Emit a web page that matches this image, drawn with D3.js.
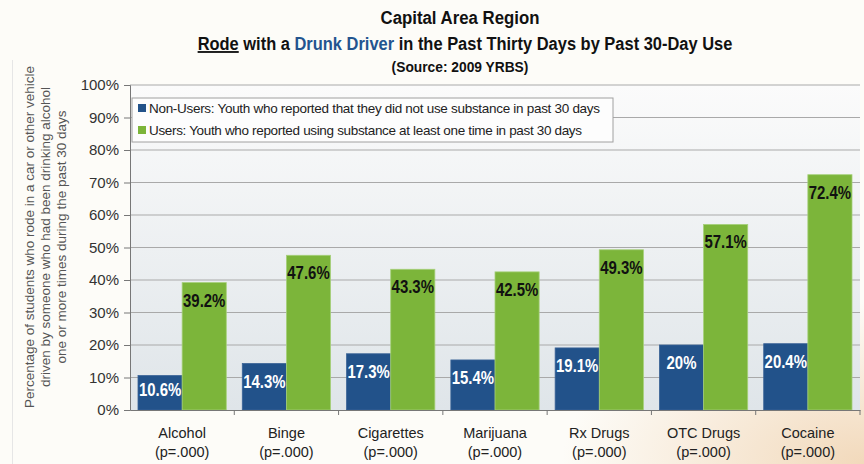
<!DOCTYPE html>
<html>
<head>
<meta charset="utf-8">
<script src="https://cdn.jsdelivr.net/npm/d3@7"></script>
<style>
  body { margin: 0; background: #fff; }
  svg { display: block; }
</style>
</head>
<body>
<svg id="chart"></svg>
<script>
var categories = ['Alcohol', 'Binge', 'Cigarettes', 'Marijuana', 'Rx Drugs', 'OTC Drugs', 'Cocaine'];
var pLabels = ['(p=.000)', '(p=.000)', '(p=.000)', '(p=.000)', '(p=.000)', '(p=.000)', '(p=.000)'];
var nonUsers = [10.6, 14.3, 17.3, 15.4, 19.1, 20, 20.4];
var users = [39.2, 47.6, 43.3, 42.5, 49.3, 57.1, 72.4];
var valueLabels = {
  nonUsers: ['10.6%', '14.3%', '17.3%', '15.4%', '19.1%', '20%', '20.4%'],
  users: ['39.2%', '47.6%', '43.3%', '42.5%', '49.3%', '57.1%', '72.4%']
};
var seriesKeys = ['nonUsers', 'users'];
var seriesNames = [
  'Non-Users: Youth who reported that they did not use substance in past 30 days',
  'Users: Youth who reported using substance at least one time in past 30 days'
];
var yTicks = [0, 10, 20, 30, 40, 50, 60, 70, 80, 90, 100];

var W = 864, H = 464;
var margin = {top: 85, left: 130, right: 4, bottom: 54};
var width = W - margin.left - margin.right;
var height = H - margin.top - margin.bottom;
var sans = '"Liberation Sans", Arial, sans-serif';

var svg = d3.select('#chart').attr('width', W).attr('height', H);

// squeeze text horizontally, like the narrow font of the original
function narrow(sel, k) {
  sel.each(function() {
    var w = this.getComputedTextLength();
    d3.select(this).attr('textLength', w * k).attr('lengthAdjust', 'spacingAndGlyphs');
  });
}

// title line drawn at natural width, then scaled in x to the target width
function titleLine(cx, cy, size, target) {
  var grp = svg.append('g');
  var t = grp.append('text')
    .attr('text-anchor', 'middle')
    .attr('font-family', sans).attr('font-weight', 'bold').attr('font-size', size)
    .attr('fill', '#111');
  return {g: grp, t: t, fit: function() {
    var w = t.node().getComputedTextLength();
    grp.attr('transform', 'translate(' + cx + ',' + cy + ') scale(' + (target / w) + ',1)');
  }};
}

// page background
var defs = svg.append('defs');
var bg = defs.append('radialGradient').attr('id', 'bgGrad')
  .attr('cx', '100%').attr('cy', '100%').attr('r', '35%');
bg.append('stop').attr('offset', '0%').attr('stop-color', '#f2d9bb');
bg.append('stop').attr('offset', '100%').attr('stop-color', '#fdfcf8');
var plotBg = defs.append('linearGradient').attr('id', 'plotGrad')
  .attr('x1', 0).attr('y1', 0).attr('x2', 0).attr('y2', 1);
plotBg.append('stop').attr('offset', '0%').attr('stop-color', '#fbfbfb');
plotBg.append('stop').attr('offset', '100%').attr('stop-color', '#dfe5e9');

svg.append('rect').attr('width', W).attr('height', H).attr('fill', 'url(#bgGrad)');
svg.append('line').attr('x1', 12.5).attr('x2', 12.5).attr('y1', 60).attr('y2', H)
  .attr('stroke', '#e6e6e6');

var g = svg.append('g')
  .attr('transform', 'translate(' + margin.left + ',' + margin.top + ')');

var x0 = d3.scaleBand().domain(categories).range([0, width]);
var x1 = d3.scaleBand().domain(seriesKeys).range([8, x0.bandwidth() - 8]);
var y = d3.scaleLinear().domain([0, 100]).range([height, 0]);
var color = d3.scaleOrdinal().domain(seriesKeys).range(['#22528a', '#7cb53a']);

g.append('rect').attr('width', width).attr('height', height).attr('fill', 'url(#plotGrad)');

// gridlines
g.append('g')
  .selectAll('line')
  .data(yTicks.slice(1))
  .enter().append('line')
    .attr('x1', 0).attr('x2', width)
    .attr('y1', function(d) { return y(d); })
    .attr('y2', function(d) { return y(d); })
    .attr('stroke', '#a9a9a9').attr('stroke-width', 1.2);

var data = categories.map(function(c, i) {
  return {cat: c, nonUsers: nonUsers[i], users: users[i], i: i};
});

var groups = g.append('g')
  .selectAll('g')
  .data(data)
  .enter().append('g')
    .attr('transform', function(d) { return 'translate(' + x0(d.cat) + ',0)'; });

var bars = groups.selectAll('g')
  .data(function(d) {
    return seriesKeys.map(function(k) { return {key: k, value: d[k], i: d.i}; });
  })
  .enter().append('g');

bars.append('rect')
  .attr('x', function(d) { return x1(d.key); })
  .attr('y', function(d) { return y(d.value); })
  .attr('width', x1.bandwidth())
  .attr('height', function(d) { return height - y(d.value); })
  .attr('fill', function(d) { return color(d.key); })
  .attr('stroke', function(d) { return d.key === 'users' ? '#a6d07a' : '#3a6396'; })
  .attr('stroke-width', 0.8);

bars.append('text')
  .attr('x', function(d) { return x1(d.key) + x1.bandwidth() / 2; })
  .attr('y', function(d) { return Math.min(y(d.value) + 24, height - 14); })
  .attr('text-anchor', 'middle')
  .attr('font-family', sans)
  .attr('font-weight', 'bold')
  .attr('font-size', 18)
  .attr('fill', function(d) { return d.key === 'users' ? '#111' : '#fff'; })
  .text(function(d) { return valueLabels[d.key][d.i]; })
  .call(narrow, 0.83);

// y axis
var yAxis = g.append('g')
  .call(d3.axisLeft(y).tickValues(yTicks).tickSize(6).tickPadding(5)
    .tickFormat(function(d) { return d + '%'; }));
yAxis.selectAll('text')
  .attr('font-family', sans)
  .attr('font-size', 15).attr('fill', '#333');
yAxis.selectAll('line').attr('stroke', '#777');
yAxis.select('.domain').attr('stroke', '#777');

// x axis
var xAxis = g.append('g')
  .attr('transform', 'translate(0,' + height + ')')
  .call(d3.axisBottom(x0).tickSize(0).tickFormat(''));
xAxis.select('.domain').attr('stroke', '#777');
xAxis.append('g')
  .selectAll('line')
  .data(categories)
  .enter().append('line')
    .attr('x1', function(d) { return x0(d) + x0.bandwidth(); })
    .attr('x2', function(d) { return x0(d) + x0.bandwidth(); })
    .attr('y1', 0).attr('y2', 5)
    .attr('stroke', '#777');

var catLabels = g.append('g')
  .attr('font-family', sans)
  .attr('font-size', 14.5)
  .attr('fill', '#222')
  .attr('text-anchor', 'middle')
  .selectAll('text')
  .data(categories)
  .enter().append('text')
    .attr('x', function(d) { return x0(d) + x0.bandwidth() / 2; })
    .attr('y', height + 28);
catLabels.append('tspan').text(function(d) { return d; });
catLabels.append('tspan')
  .attr('x', function(d) { return x0(d) + x0.bandwidth() / 2; })
  .attr('dy', 19)
  .text(function(d, i) { return pLabels[i]; });

// legend
var legend = g.append('g').attr('transform', 'translate(2,13)');
legend.append('rect')
  .attr('width', 481).attr('height', 44)
  .attr('fill', '#fdfdfd').attr('stroke', '#a0a0a0');
var items = legend.selectAll('g')
  .data(seriesKeys)
  .enter().append('g')
    .attr('transform', function(d, i) { return 'translate(6,' + (10 + i * 22) + ')'; });
items.append('rect')
  .attr('width', 8).attr('height', 8).attr('y', -4)
  .attr('fill', color);
items.append('text')
  .attr('x', 11).attr('dy', '0.35em')
  .attr('font-family', sans)
  .attr('font-size', 13.5).attr('fill', '#222')
  .attr('textLength', function(d, i) { return i === 0 ? 451 : 433; })
  .text(function(d, i) { return seriesNames[i]; });

// y axis title
var yTitle = svg.append('text')
  .attr('transform', 'translate(45,237) rotate(-90)')
  .attr('text-anchor', 'middle')
  .attr('font-family', sans)
  .attr('font-size', 13.5).attr('fill', '#555');
['Percentage of students who rode in a car or other vehicle',
 'driven by someone who had been drinking alcohol',
 'one or more times during the past 30 days'].forEach(function(t, i) {
  yTitle.append('tspan').attr('x', 0).attr('y', (i - 1) * 16).attr('dy', '0.35em').text(t);
});

// titles
var l1 = titleLine(460, 24, 18.5, 159);
l1.t.text('Capital Area Region');
l1.fit();

var l2 = titleLine(465, 50, 18.5, 535);
l2.t.append('tspan').attr('text-decoration', 'underline').text('Rode');
l2.t.append('tspan').text(' with a ');
l2.t.append('tspan').attr('fill', '#23548f').text('Drunk Driver');
l2.t.append('tspan').text(' in the Past Thirty Days by Past 30-Day Use');
l2.fit();

var l3 = titleLine(460, 72, 14, 137);
l3.t.text('(Source: 2009 YRBS)');
l3.fit();
</script>
</body>
</html>
